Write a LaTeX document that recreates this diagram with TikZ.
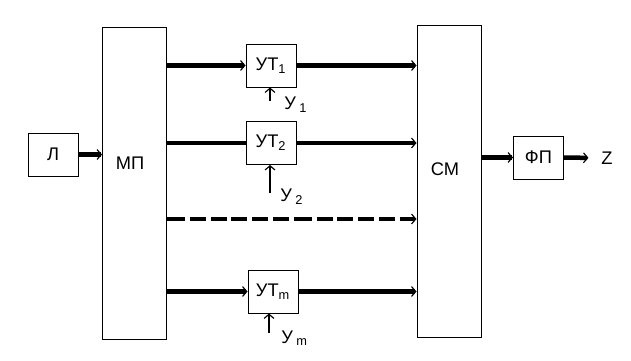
\documentclass[tikz,border=0pt]{standalone}
\usepackage{fontspec}
\setmainfont{Liberation Sans}
\usepackage{tikz}
\usetikzlibrary{positioning,arrows.meta}

\begin{document}
\begin{tikzpicture}[x=0.025cm, y=-0.025cm,
  >={Straight Barb[length=3pt 0 0, width=7pt 0 0, line width'=0.8pt]},
  every node/.style={font=\fontsize{13}{15}\selectfont, align=center},
  blk/.style={draw, line width=0.7pt, minimum width=1.25cm, minimum height=1.075cm, inner sep=0pt},
  tall/.style={draw, line width=0.7pt, minimum width=1.6cm, minimum height=7.775cm, inner sep=0pt},
  bus/.style={line width=3.2pt},
  ctl/.style={->, line width=1.2pt},
  sig/.style={anchor=west, inner sep=0pt}]
  \useasboundingbox (0,0) rectangle (631,361);
  \def\sub#1{\hspace{2.5pt}\textsubscript{#1}}

  \node[blk] (l) at (53,154.5) {Л};
  \node[tall, label={[xshift=-0.11cm, yshift=0.51cm]center:МП}] (mp) at (134.5,183.5) {};

  \node[blk] (ut1) at (271,65.5) {УТ\textsubscript{1}};
  \node[blk] (ut2) at (271,143) {УТ\textsubscript{2}};
  \node[blk] (utm) at (273,291.5) {УТ\textsubscript{m}};

  \node[tall, label={[xshift=-0.1cm, yshift=0.31cm]center:СМ}] (cm) at (449,181.5) {};
  \node[blk] (fp) at (538.5,157.5) {ФП};
  \node (z) at (607,158) {Z};

  \node[sig] (y1) at (284,105) {У\sub{1}};
  \node[sig] (y2) at (280,197) {У\sub{2}};
  \node[sig] (ym) at (281,338) {У\sub{m}};

  \coordinate (c1) at (270,101);
  \coordinate (c2) at (270,193);
  \coordinate (cm1) at (269,333);
  \coordinate (d) at (300,219);

  \draw[bus, ->] (l.east) -- (l.east -| mp.west);
  \draw[bus, ->] (mp.east |- ut1) -- (ut1.west);
  \draw[bus] (mp.east |- ut2) -- (ut2.west);
  \draw[bus, ->] (mp.east |- utm) -- (utm.west);
  \draw[bus, ->, dash pattern=on 0.45cm off 0.12cm on 0.4cm off 0.12cm on 0.4cm off 0.12cm on 0.4cm off 0.12cm on 0.4cm off 0.12cm on 0.4cm off 0.12cm]
    (mp.east |- d) -- (cm.west |- d);

  \draw[bus, ->] (ut1.east) -- (ut1.east -| cm.west);
  \draw[bus, ->] (ut2.east) -- (ut2.east -| cm.west);
  \draw[bus, ->] (utm.east) -- (utm.east -| cm.west);

  \draw[bus, ->] (cm.east |- fp) -- (fp.west);
  \draw[bus, ->, shorten >=0.2cm] (fp.east) -- (z.west);

  \draw[ctl] (c1) -- (c1 |- ut1.south);
  \draw[ctl] (c2) -- (c2 |- ut2.south);
  \draw[ctl] (cm1) -- (cm1 |- utm.south);
\end{tikzpicture}
\end{document}
